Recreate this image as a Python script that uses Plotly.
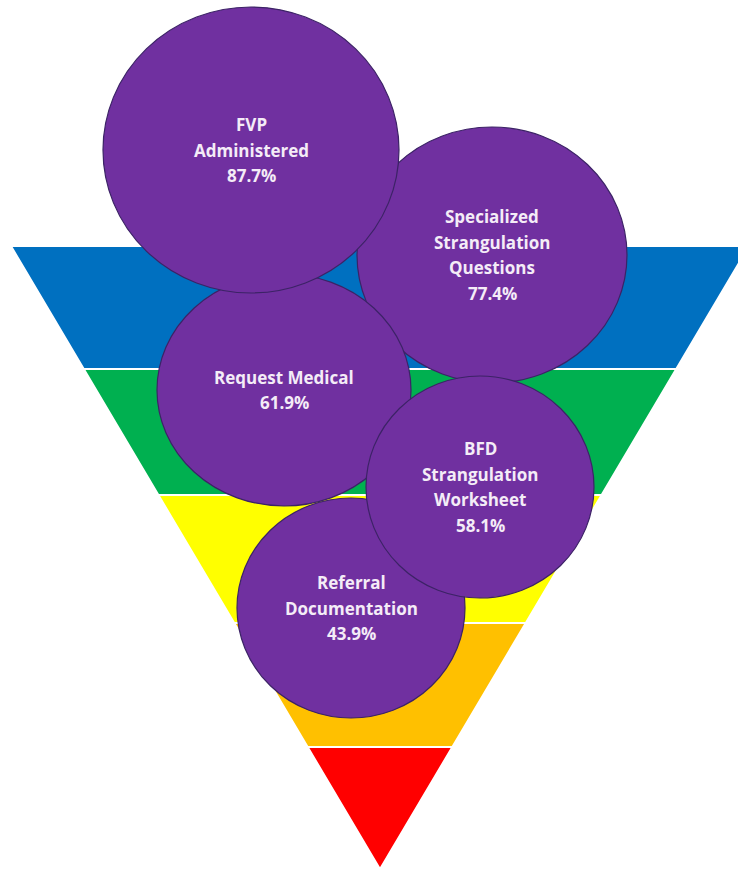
import plotly.graph_objects as go

# Screening measures and the share of cases where each was completed
measures = [
    "FVP<br>Administered",
    "Specialized<br>Strangulation<br>Questions",
    "Request Medical",
    "BFD<br>Strangulation<br>Worksheet",
    "Referral<br>Documentation",
]
rates = [87.7, 77.4, 61.9, 58.1, 43.9]

# Funnel tier colours, top to bottom
tier_colors = ["#0070C0", "#00B050", "#FFFF00", "#FFC000", "#FF0000"]

# ---- layout geometry (pixel space) ----
W, H = 738, 869
tri_top_y, tri_apex_y = 246, 869
tri_left_x, tri_apex_x = 11, 380
tier_edges = [246, 369, 495, 623, 747, 869]

bubble_cx = [251, 492, 284, 480, 351]
bubble_cy = [150, 255, 390, 487, 608]
bubble_rx = [148, 135, 127, 114, 114]
bubble_ry = [143, 128, 116, 111, 110]
bubble_order = [4, 1, 2, 3, 0]  # painting order, last on top
line_gap = 25.5

PURPLE = "#7030A0"
OUTLINE = "#3C2366"
TEXT = "#F4ECF7"


def half_width(y):
    return (tri_apex_y - y) / (tri_apex_y - tri_top_y) * (tri_apex_x - tri_left_x)


fig = go.Figure()
fig.add_trace(go.Scatter(x=[0, W], y=[0, H], mode="markers",
                         marker=dict(opacity=0), hoverinfo="skip"))

shapes = []
for i, color in enumerate(tier_colors):
    y1, y2 = tier_edges[i], tier_edges[i + 1]
    h1, h2 = half_width(y1), half_width(y2)
    path = (f"M {tri_apex_x - h1},{y1} L {tri_apex_x + h1},{y1} "
            f"L {tri_apex_x + h2},{y2} L {tri_apex_x - h2},{y2} Z")
    shapes.append(dict(type="path", path=path, xref="x", yref="y",
                       fillcolor=color, line=dict(color="white", width=1.8),
                       layer="above"))

for i in bubble_order:
    shapes.append(dict(type="circle", xref="x", yref="y",
                       x0=bubble_cx[i] - bubble_rx[i], x1=bubble_cx[i] + bubble_rx[i],
                       y0=bubble_cy[i] - bubble_ry[i], y1=bubble_cy[i] + bubble_ry[i],
                       fillcolor=PURPLE, line=dict(color=OUTLINE, width=1.2),
                       layer="above"))

annotations = []
for i, name in enumerate(measures):
    lines = name.split("<br>") + [f"{rates[i]:.1f}%"]
    n = len(lines)
    for j, txt in enumerate(lines):
        annotations.append(dict(
            x=bubble_cx[i], y=bubble_cy[i] + (j - (n - 1) / 2) * line_gap,
            xref="x", yref="y", text=txt, showarrow=False,
            xanchor="center", yanchor="middle",
            font=dict(family="Open Sans", size=17, color=TEXT, weight=700),
        ))

fig.update_layout(
    width=W, height=H,
    margin=dict(l=0, r=0, t=0, b=0),
    paper_bgcolor="white", plot_bgcolor="white",
    showlegend=False,
    xaxis=dict(range=[0, W], visible=False, fixedrange=True),
    yaxis=dict(range=[H, 0], visible=False, fixedrange=True),
    shapes=shapes,
    annotations=annotations,
)

fig.write_html("out.html", config={"displayModeBar": False})
